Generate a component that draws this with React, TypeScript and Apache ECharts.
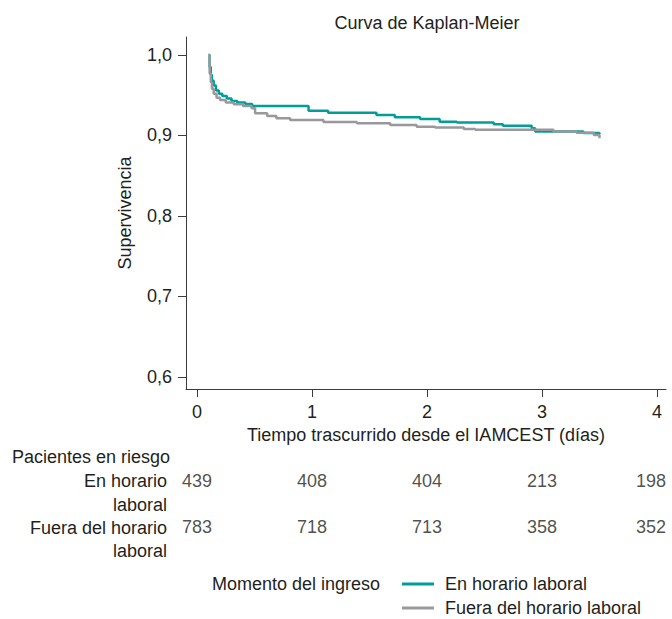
import React, { useEffect, useRef } from 'react';
import * as echarts from 'echarts';

// ---- Data ----
const seriesNames = ['En horario laboral', 'Fuera del horario laboral'];

const tealTimes = [0.1, 0.11, 0.12, 0.13, 0.145, 0.165, 0.19, 0.22, 0.26, 0.3, 0.35, 0.42, 0.48, 0.97, 1.14, 1.56, 1.72, 1.94, 2.11, 2.26, 2.58, 2.66, 2.91, 2.94, 3.36, 3.5];
const tealSurv = [1.0, 0.985, 0.975, 0.968, 0.962, 0.956, 0.952, 0.949, 0.946, 0.943, 0.941, 0.939, 0.9366, 0.9308, 0.9283, 0.9255, 0.9226, 0.9205, 0.917, 0.916, 0.914, 0.912, 0.909, 0.905, 0.903, 0.902];

const grayTimes = [0.1, 0.11, 0.12, 0.13, 0.145, 0.17, 0.2, 0.25, 0.32, 0.4, 0.475, 0.505, 0.61, 0.69, 0.81, 1.1, 1.39, 1.68, 1.91, 2.07, 2.32, 2.42, 3.1, 3.3, 3.45, 3.5, 3.5];
const graySurv = [1.0, 0.977, 0.966, 0.958, 0.952, 0.947, 0.944, 0.941, 0.9388, 0.9366, 0.934, 0.9275, 0.9242, 0.9214, 0.9193, 0.9168, 0.9151, 0.913, 0.911, 0.91, 0.908, 0.907, 0.905, 0.9035, 0.9006, 0.8995, 0.8965];

const xTicks = [0, 1, 2, 3, 4];
const yTicks = [0.6, 0.7, 0.8, 0.9, 1.0];

const riskTimes = [0, 1, 2, 3, 4];
const riskEnHorario = [439, 408, 404, 213, 198];
const riskFuera = [783, 718, 713, 358, 352];
const riskRows = ['en', 'fuera'];

const FONT = '"Liberation Sans", Arial, Helvetica, sans-serif';
const TXT = '#231f20';
const AXIS = '#3c3c3c';
const TEAL = '#009e99';
const GRAY = '#98989d';
const FS = 18;

const X_MIN = -0.0957;
const X_MAX = 4.0783;

export default function App() {
  const ref = useRef<HTMLDivElement>(null);

  useEffect(() => {
    if (!ref.current) return;
    const chart = echarts.init(ref.current, undefined, { renderer: 'svg' });

    const riskSeries = (counts: number[], row: number) => ({
      type: 'scatter',
      xAxisIndex: 1,
      yAxisIndex: 1,
      symbolSize: 0,
      silent: true,
      data: riskTimes.map((t, i) => ({
        value: [t, row, counts[i]],
        label: i === riskTimes.length - 1 ? { offset: [-6, 0] } : undefined,
      })),
      label: {
        show: true,
        position: 'inside',
        formatter: (p: any) => String(p.value[2]),
        fontSize: FS,
        color: TXT,
        fontFamily: FONT,
      },
    });

    const legendBase = {
      orient: 'vertical',
      left: 402,
      padding: 0,
      icon: 'rect',
      itemWidth: 32,
      itemHeight: 3,
      selectedMode: false,
      textStyle: { fontSize: FS, color: TXT, lineHeight: 20, padding: [0, 0, 0, 6], fontFamily: FONT },
    };

    const option: any = {
      animation: false,
      textStyle: { fontFamily: FONT },
      grid: [
        { left: 186, top: 37, width: 480, height: 352 },
        { left: 186, top: 458, width: 480, height: 92 },
      ],
      xAxis: [
        {
          type: 'value',
          gridIndex: 0,
          min: X_MIN,
          max: X_MAX,
          splitLine: { show: false },
          axisLine: { show: true, onZero: false, lineStyle: { color: AXIS, width: 1 } },
          axisTick: { show: true, length: 8, customValues: xTicks, lineStyle: { color: AXIS, width: 1 } },
          axisLabel: {
            customValues: xTicks,
            fontSize: FS,
            color: TXT,
            margin: 14,
            fontFamily: FONT,
            formatter: (v: number) => String(v),
          },
          name: 'Tiempo trascurrido desde el IAMCEST (días)',
          nameLocation: 'middle',
          nameGap: 37,
          nameTextStyle: { fontSize: FS, color: TXT, fontFamily: FONT },
        },
        { type: 'value', gridIndex: 1, min: X_MIN, max: X_MAX, show: false },
      ],
      yAxis: [
        {
          type: 'value',
          gridIndex: 0,
          min: 0.58509,
          max: 1.02236,
          splitLine: { show: false },
          axisLine: { show: true, onZero: false, lineStyle: { color: AXIS, width: 1 } },
          axisTick: { show: true, length: 8, customValues: yTicks, lineStyle: { color: AXIS, width: 1 } },
          axisLabel: {
            customValues: yTicks,
            fontSize: FS,
            color: TXT,
            margin: 14,
            fontFamily: FONT,
            formatter: (v: number) => v.toFixed(1).replace('.', ','),
          },
          name: 'Supervivencia',
          nameLocation: 'middle',
          nameGap: 52,
          nameRotate: 90,
          nameTextStyle: { fontSize: FS, color: TXT, fontFamily: FONT },
        },
        { type: 'category', gridIndex: 1, data: riskRows, inverse: true, show: false },
      ],
      legend: [
        { ...legendBase, data: [seriesNames[0]], top: 574 },
        { ...legendBase, data: [seriesNames[1]], top: 598 },
      ],
      graphic: [
        { type: 'text', x: 427, y: 23, style: { text: 'Curva de Kaplan-Meier', fontSize: FS, fill: TXT, fontFamily: FONT, align: 'center', verticalAlign: 'middle' } },
        { type: 'text', x: 12, y: 457, style: { text: 'Pacientes en riesgo', fontSize: FS, fill: TXT, fontFamily: FONT, align: 'left', verticalAlign: 'middle' } },
        { type: 'text', x: 167, y: 481, style: { text: 'En horario', fontSize: FS, fill: TXT, fontFamily: FONT, align: 'right', verticalAlign: 'middle' } },
        { type: 'text', x: 167, y: 505, style: { text: 'laboral', fontSize: FS, fill: TXT, fontFamily: FONT, align: 'right', verticalAlign: 'middle' } },
        { type: 'text', x: 167, y: 528, style: { text: 'Fuera del horario', fontSize: FS, fill: TXT, fontFamily: FONT, align: 'right', verticalAlign: 'middle' } },
        { type: 'text', x: 167, y: 551, style: { text: 'laboral', fontSize: FS, fill: TXT, fontFamily: FONT, align: 'right', verticalAlign: 'middle' } },
        { type: 'text', x: 212, y: 584, style: { text: 'Momento del ingreso', fontSize: FS, fill: TXT, fontFamily: FONT, align: 'left', verticalAlign: 'middle' } },
      ],
      series: [
        {
          name: seriesNames[0],
          type: 'line',
          step: 'end',
          xAxisIndex: 0,
          yAxisIndex: 0,
          showSymbol: false,
          symbol: 'none',
          color: TEAL,
          lineStyle: { color: TEAL, width: 2.5 },
          data: tealTimes.map((t, i) => [t, tealSurv[i]]),
        },
        {
          name: seriesNames[1],
          type: 'line',
          step: 'end',
          xAxisIndex: 0,
          yAxisIndex: 0,
          showSymbol: false,
          symbol: 'none',
          color: GRAY,
          lineStyle: { color: GRAY, width: 2.5 },
          data: grayTimes.map((t, i) => [t, graySurv[i]]),
        },
        riskSeries(riskEnHorario, 0),
        riskSeries(riskFuera, 1),
      ],
    };

    chart.setOption(option);
    return () => chart.dispose();
  }, []);

  return (
    <div
      ref={ref}
      style={{ position: 'fixed', left: 0, top: 0, width: 672, height: 619, background: '#fff' }}
    />
  );
}
